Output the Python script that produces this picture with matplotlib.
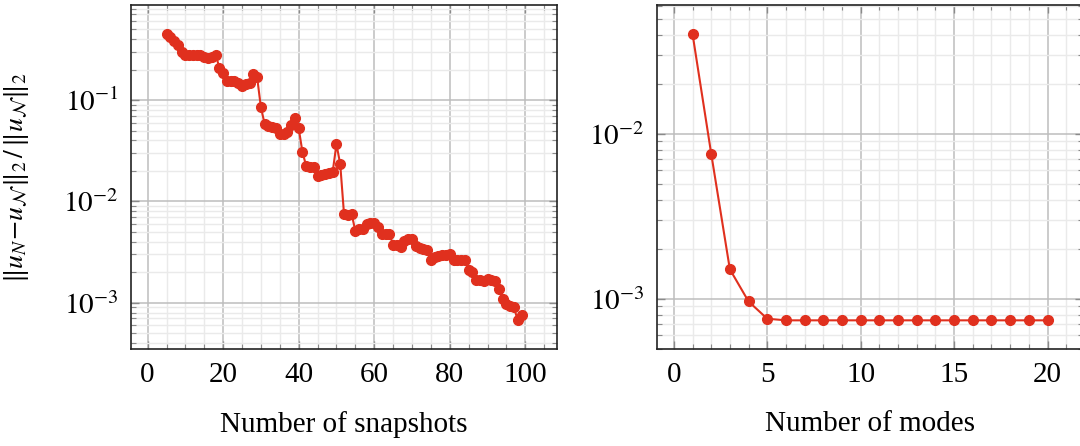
import numpy as np
import matplotlib
matplotlib.use("Agg")
import matplotlib.pyplot as plt
from matplotlib.ticker import MultipleLocator, LogLocator, NullFormatter, FixedLocator

plt.rcParams["font.family"] = ["Liberation Serif", "DejaVu Serif"]
plt.rcParams["mathtext.fontset"] = "stix"
plt.rcParams["font.size"] = 21

# left panel: relative error vs number of snapshots
snapshots = np.arange(5, 100)
err_snap = [
    0.452, 0.423, 0.386, 0.352, 0.301, 0.281, 0.281, 0.281, 0.281, 0.281,
    0.268, 0.262, 0.268, 0.281, 0.209, 0.183, 0.153, 0.153, 0.153, 0.149,
    0.139, 0.143, 0.149, 0.179, 0.167, 0.0848, 0.0577, 0.0552, 0.0540, 0.0527,
    0.0460, 0.0460, 0.0482, 0.0564, 0.0661, 0.0527, 0.0306, 0.0223, 0.0218, 0.0218,
    0.0178, 0.0182, 0.0186, 0.0190, 0.0195, 0.0367, 0.0233, 0.00753, 0.00736, 0.00753,
    0.00513, 0.00537, 0.00537, 0.00601, 0.00615, 0.00615, 0.00561, 0.00480, 0.00480, 0.00480,
    0.00374, 0.00374, 0.00357, 0.00409, 0.00428, 0.00428, 0.00366, 0.00349, 0.00341, 0.00334,
    0.00266, 0.00285, 0.00292, 0.00298, 0.00298, 0.00305, 0.00261, 0.00266, 0.00266, 0.00261,
    0.00212, 0.00203, 0.00166, 0.00166, 0.00162, 0.00173, 0.00166, 0.00162, 0.00138, 0.00110,
    0.000962, 0.000920, 0.000899, 0.000670, 0.000750,
]

# right panel: relative error vs number of modes
modes = np.arange(1, 21)
err_modes = [0.0405, 0.0076, 0.00151, 0.000964, 0.000758] + [0.000741] * 15

RED = "#e0301e"


def style_axis(ax, x, y, xmajor, xminor, yticks):
    ax.set_yscale("log")
    span = x.max() - x.min()
    ax.set_xlim(x.min() - 0.1 * span, x.max() + 0.1 * span)
    ly = np.log10(y)
    lspan = ly.max() - ly.min()
    ax.set_ylim(10 ** (ly.min() - 0.1 * lspan), 10 ** (ly.max() + 0.1 * lspan))

    ax.xaxis.set_major_locator(MultipleLocator(xmajor))
    ax.xaxis.set_minor_locator(MultipleLocator(xminor))
    ax.yaxis.set_major_locator(FixedLocator(yticks))
    ax.yaxis.set_minor_locator(LogLocator(base=10, subs=np.arange(2, 10)))
    ax.yaxis.set_minor_formatter(NullFormatter())
    ax.set_yticklabels([r"$10^{%d}$" % int(np.log10(t)) for t in yticks])

    ax.grid(which="major", color="#bdbdbd", lw=1.1)
    ax.grid(which="minor", color="#eaeaea", lw=1.0)
    ax.set_axisbelow(True)
    ax.tick_params(which="both", direction="in", top=True, right=True,
                   color="#8a8a8a", pad=9)
    ax.tick_params(which="major", length=6, width=1.0)
    ax.tick_params(which="minor", length=3.5, width=0.8)
    for s in ax.spines.values():
        s.set_color("#222222")
        s.set_linewidth(1.2)

    ax.plot(x, y, color=RED, lw=1.5, marker="o", ms=7, mec=RED, mfc=RED)


fig = plt.figure(figsize=(10.8, 4.46), dpi=100)
ax1 = fig.add_axes([131 / 1080, 1 - 349 / 446, 426 / 1080, 344 / 446])
ax2 = fig.add_axes([657 / 1080, 1 - 349 / 446, 426 / 1080, 344 / 446])

style_axis(ax1, snapshots, np.array(err_snap), 20, 5, [1e-3, 1e-2, 1e-1])
style_axis(ax2, modes, np.array(err_modes), 5, 1, [1e-3, 1e-2])

ax1.set_xlabel("Number of snapshots")
ax2.set_xlabel("Number of modes")
ax1.xaxis.set_label_coords(0.5, -0.18)
ax2.xaxis.set_label_coords(0.5, -0.18)

ax1.set_ylabel(r"$\Vert u_N\!-\!u_{\mathcal{N}}\Vert_2\,/\,\Vert u_{\mathcal{N}}\Vert_2$",
               fontsize=20)
ax1.yaxis.set_label_coords(-0.235, 0.5)

fig.savefig("out.png", dpi=100)
